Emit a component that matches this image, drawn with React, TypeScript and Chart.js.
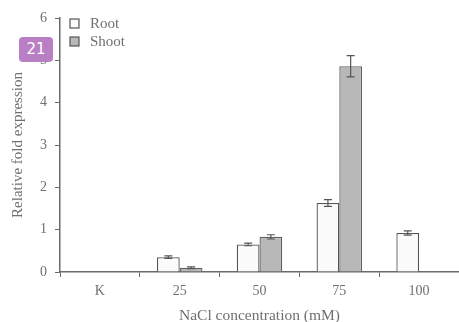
import React, { useEffect, useRef } from "react";
import { Chart, registerables } from "chart.js";

Chart.register(...registerables);

const categories = ["K", "25", "50", "75", "100"];
const rootValues = [0, 0.35, 0.65, 1.63, 0.92];
const rootErrors = [0, 0.03, 0.03, 0.08, 0.05];
const shootValues = [0, 0.1, 0.83, 4.86, 0.02];
const shootErrors = [0, 0.02, 0.05, 0.25, 0];
const yTicks = [0, 1, 2, 3, 4, 5, 6];
const seriesNames = ["Root", "Shoot"];
const yTitle = "Relative fold expression";
const xTitle = "NaCl concentration (mM)";

const FONT = "'Liberation Serif', 'Times New Roman', serif";
const AXIS = "#6a6a6a";
const TEXT = "#707070";

const errorBarPlugin = {
  id: "errorBars",
  afterDatasetsDraw(chart: any) {
    const ctx = chart.ctx;
    const y = chart.scales.y;
    const errs = [rootErrors, shootErrors];
    ctx.save();
    ctx.strokeStyle = "#555";
    ctx.lineWidth = 1.2;
    chart.data.datasets.forEach((ds: any, di: number) => {
      const meta = chart.getDatasetMeta(di);
      meta.data.forEach((bar: any, i: number) => {
        const e = errs[di][i];
        const v = ds.data[i];
        if (!e) return;
        const yt = y.getPixelForValue(v + e);
        const yb = y.getPixelForValue(v - e);
        const x = bar.x;
        ctx.beginPath();
        ctx.moveTo(x, yt);
        ctx.lineTo(x, yb);
        ctx.moveTo(x - 4, yt);
        ctx.lineTo(x + 4, yt);
        ctx.moveTo(x - 4, yb);
        ctx.lineTo(x + 4, yb);
        ctx.stroke();
      });
    });
    ctx.restore();
  },
};

const legendPlugin = {
  id: "customLegend",
  afterDraw(chart: any) {
    const ctx = chart.ctx;
    const left = chart.chartArea.left + 10;
    const top = 19;
    ctx.save();
    chart.data.datasets.forEach((ds: any, i: number) => {
      const yy = top + i * 18;
      ctx.fillStyle = ds.backgroundColor;
      ctx.fillRect(left, yy, 9, 9);
      ctx.strokeStyle = "#555";
      ctx.lineWidth = 1.2;
      ctx.strokeRect(left, yy, 9, 9);
      ctx.fillStyle = "#707070";
      ctx.font = `15px ${FONT}`;
      ctx.textBaseline = "middle";
      ctx.fillText(ds.label, left + 20, yy + 5);
    });
    ctx.restore();
  },
};

export default function App() {
  const ref = useRef<HTMLCanvasElement>(null);
  useEffect(() => {
    const chart = new Chart(ref.current!, {
      type: "bar",
      data: {
        labels: categories,
        datasets: [
          {
            label: seriesNames[0],
            data: rootValues,
            backgroundColor: "#fbfbfb",
            borderColor: "#555",
            borderWidth: 1.3,
          },
          {
            label: seriesNames[1],
            data: shootValues,
            backgroundColor: "#b8b8b8",
            borderColor: "#606060",
            borderWidth: 1.3,
          },
        ],
      },
      options: {
        responsive: false,
        animation: false,
        layout: { padding: { top: 18, left: 0, right: 0, bottom: 0 } },
        plugins: { legend: { display: false }, tooltip: { enabled: false } },
        datasets: { bar: { categoryPercentage: 0.57, barPercentage: 1 } },
        scales: {
          x: {
            grid: { drawOnChartArea: false, drawTicks: true, tickLength: 5, color: AXIS, offset: true },
            border: { color: AXIS, width: 1.5 },
            ticks: { color: TEXT, font: { family: FONT, size: 14 }, padding: 6 },
            title: { display: true, text: xTitle, color: TEXT, font: { family: FONT, size: 15.5 }, padding: { top: 5, bottom: -3 } },
            afterFit(scale: any) {
              scale.height = 50;
            },
          },
          y: {
            min: 0,
            max: 6,
            afterBuildTicks(scale: any) {
              scale.ticks = yTicks.map((v) => ({ value: v }));
            },
            grid: { drawOnChartArea: false, drawTicks: true, tickLength: 5, color: AXIS },
            border: { color: AXIS, width: 1.5 },
            ticks: { color: TEXT, font: { family: FONT, size: 14 }, padding: 8 },
            title: { display: true, text: yTitle, color: TEXT, font: { family: FONT, size: 15 }, padding: { top: 9, bottom: 0 } },
            afterFit(scale: any) {
              scale.width = 60;
            },
          },
        },
      },
      plugins: [errorBarPlugin, legendPlugin],
    });
    return () => chart.destroy();
  }, []);
  return (
    <div style={{ position: "fixed", left: 0, top: 0, width: 459, height: 322, background: "#fff" }}>
      <canvas ref={ref} width={459} height={322} style={{ display: "block" }} />
      <div
        style={{
          position: "absolute",
          left: 19,
          top: 37,
          width: 34,
          height: 25,
          borderRadius: 4,
          background: "#b97fc4",
          color: "#fff",
          fontFamily: "'DejaVu Sans', sans-serif",
          fontSize: 15,
          lineHeight: "25px",
          textAlign: "center",
        }}
      >
        21
      </div>
    </div>
  );
}
